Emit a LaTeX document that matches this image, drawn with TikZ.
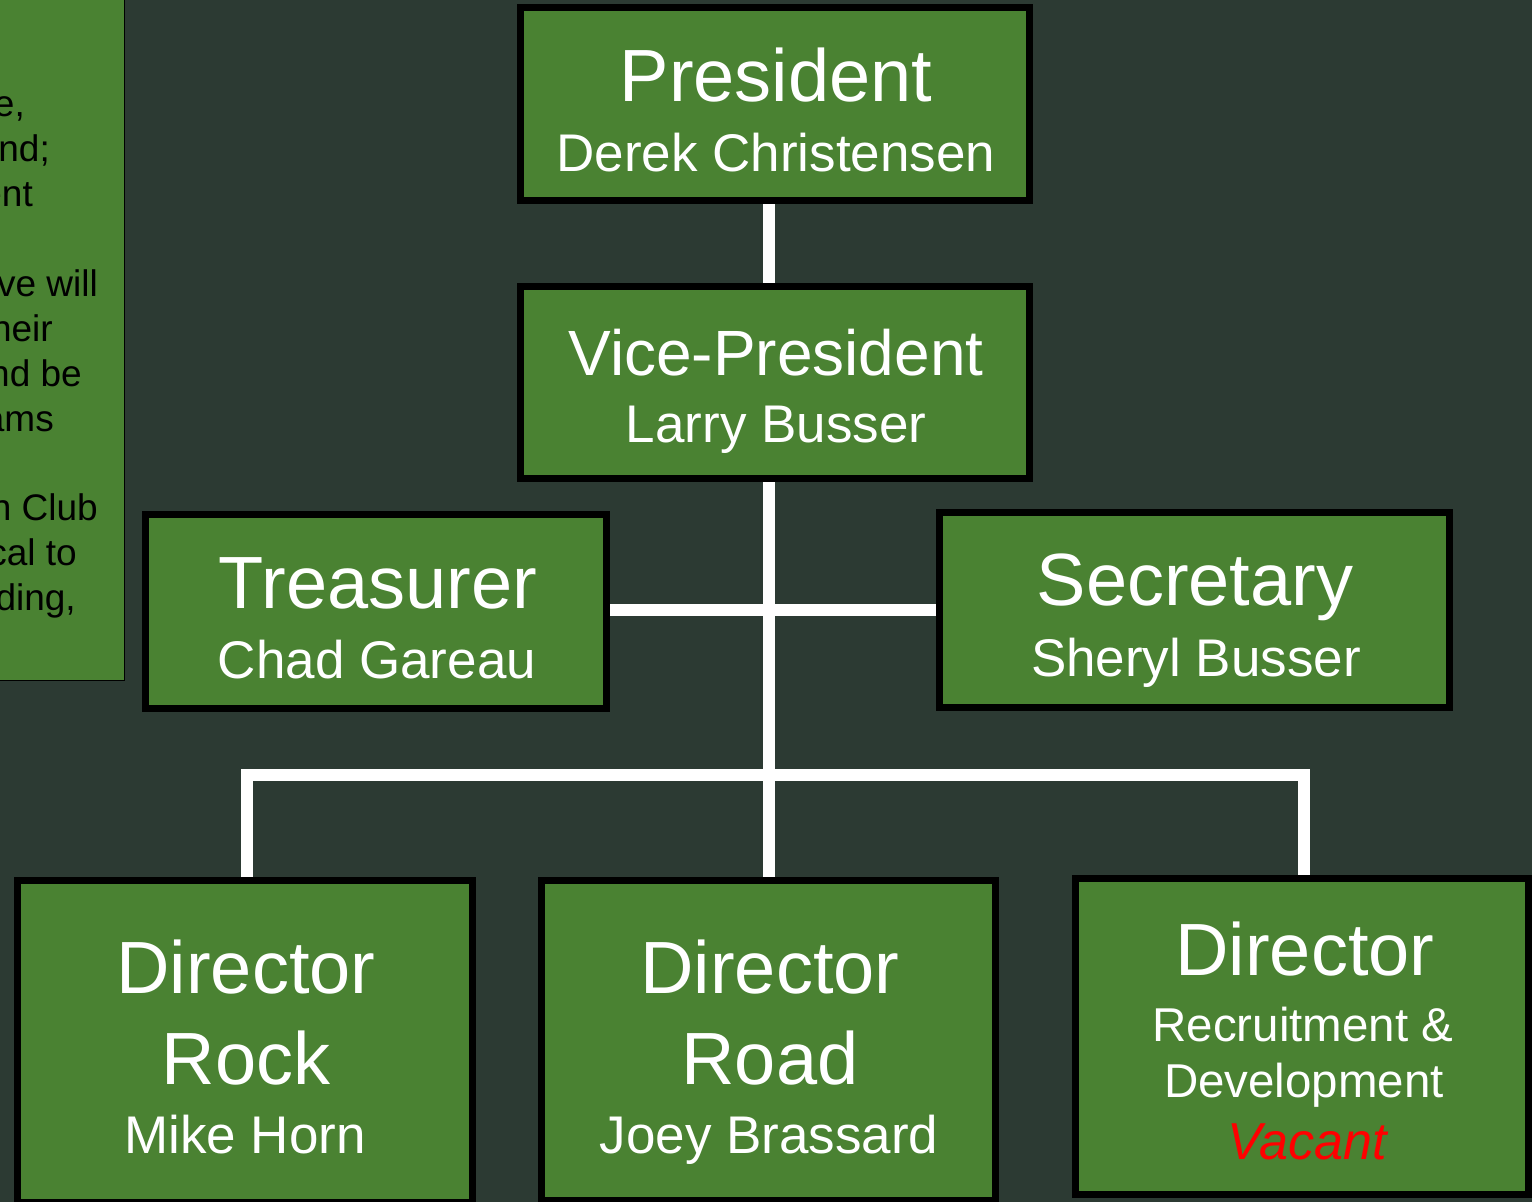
\documentclass[tikz,border=0pt]{standalone}
\usepackage{fontspec}
\setmainfont{Liberation Sans}
\definecolor{bgc}{RGB}{44,58,51}
\definecolor{boxgreen}{RGB}{74,130,50}
\definecolor{vacred}{RGB}{255,0,0}
\tikzset{
  orgbox/.style={draw=black,fill=boxgreen,line width=7pt,rectangle,inner sep=0pt},
  conn/.style={draw=white,line width=12pt,line join=miter},
  lbl/.style={anchor=base,inner sep=0pt,text=white},
  titletext/.style={lbl,font=\fontsize{74}{80}\selectfont},
  nametext/.style={lbl,font=\fontsize{53}{58}\selectfont},
  subtext/.style={lbl,font=\fontsize{47.5}{52}\selectfont},
  sidetext/.style={anchor=base east,inner sep=0pt,text=black,font=\fontsize{37}{44}\selectfont}
}
\begin{document}
\begin{tikzpicture}[x=1pt,y=-1pt]
\useasboundingbox (0,0) rectangle (1532,1202);
\fill[bgc] (0,0) rectangle (1532,1202);
\begin{scope}
\clip (0,0) rectangle (1532,1202);
% left side panel
\node[draw=black,fill=boxgreen,line width=1pt,minimum width=140pt,minimum height=700pt,inner sep=0pt] (panel) at (54,330) {};
\node[sidetext] (s1) at (25,116) {e,};
\node[sidetext] (s2) at (50,161) {nd;};
\node[sidetext] (s3) at (33,206) {ent};
\node[sidetext] (s4) at (98,296) {ve will};
\node[sidetext] (s5) at (53,341) {heir};
\node[sidetext] (s6) at (82,386) {nd be};
\node[sidetext] (s7) at (54,431) {ams};
\node[sidetext] (s8) at (98,520) {n Club};
\node[sidetext] (s9) at (77,565) {cal to};
\node[sidetext] (s10) at (76,610) {ding,};
% boxes
\node[orgbox,minimum width=509pt,minimum height=193pt] (pres) at (775,104) {};
\node[orgbox,minimum width=509pt,minimum height=192pt] (vp) at (775,382.5) {};
\node[orgbox,minimum width=461pt,minimum height=194pt] (treas) at (376,611.5) {};
\node[orgbox,minimum width=510pt,minimum height=195pt] (sec) at (1194.5,610) {};
\node[orgbox,minimum width=455pt,minimum height=322pt] (rock) at (245,1041.5) {};
\node[orgbox,minimum width=454pt,minimum height=320pt] (road) at (768.5,1040.5) {};
\node[orgbox,minimum width=453pt,minimum height=316pt] (rd) at (1302,1036.5) {};
% connectors
\coordinate (bus) at (769,775);
\draw[conn] (pres.south -| bus) -- (vp.north -| bus);
\draw[conn] (vp.south -| bus) -- (road.north -| bus);
\draw[conn] (treas.east |- sec.west) -- (sec.west);
\coordinate (busl) at (247,775);
\coordinate (busr) at (1304,775);
\draw[conn] (rock.north -| busl) -- (busl) -- (busr) -- (rd.north -| busr);
% texts
\node[titletext] (tpres) at (776,101) {President};
\node[nametext] (npres) at (776,171) {Derek Christensen};
\node[lbl,font=\fontsize{64}{70}\selectfont] (tvp) at (776,375) {Vice-President};
\node[nametext] (nvp) at (776,442) {Larry Busser};
\node[titletext] (ttreas) at (378,608) {Treasurer};
\node[nametext] (ntreas) at (377,678) {Chad Gareau};
\node[titletext] (tsec) at (1195,605) {Secretary};
\node[nametext] (nsec) at (1196,676) {Sheryl Busser};
\node[titletext] (trock) at (246,993) {Director};
\node[titletext] (rrock) at (246,1084) {Rock};
\node[nametext] (nrock) at (245,1153) {Mike Horn};
\node[titletext] (troad) at (770,993) {Director};
\node[titletext] (rroad) at (770,1084) {Road};
\node[nametext] (nroad) at (769,1153) {Joey Brassard};
\node[titletext] (trd) at (1305,975) {Director};
\node[subtext] (rrd1) at (1303,1041) {Recruitment \&};
\node[subtext] (rrd2) at (1304,1097) {Development};
\node[lbl,text=vacred,font=\fontsize{52}{56}\selectfont\itshape] (nrd) at (1307,1159) {Vacant};
\end{scope}
\end{tikzpicture}
\end{document}
